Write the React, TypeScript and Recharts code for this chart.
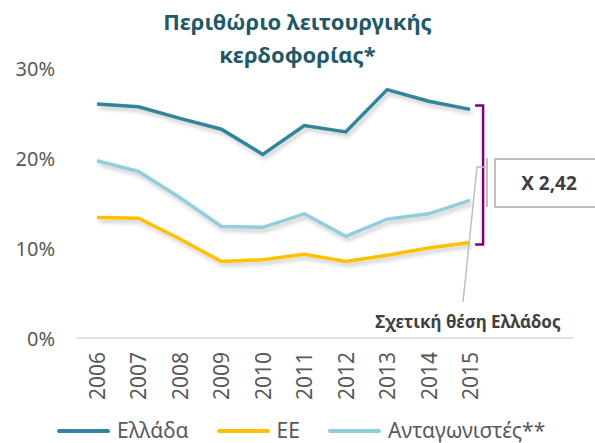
import { LineChart, Line, XAxis, YAxis, ReferenceLine } from 'recharts';

const years = ['2006', '2007', '2008', '2009', '2010', '2011', '2012', '2013', '2014', '2015'];
// two empty slots after 2015 keep the axis running on to the right, like the original
const padSlots = [' ', '  '];

const greece = [26.0, 25.7, 24.4, 23.2, 20.4, 23.6, 22.9, 27.6, 26.3, 25.4];
const eu = [13.4, 13.3, 11.0, 8.5, 8.7, 9.3, 8.5, 9.2, 10.0, 10.6];
const rivals = [19.7, 18.5, 15.6, 12.4, 12.3, 13.8, 11.3, 13.2, 13.8, 15.3];

const yTicks = [0, 10, 20, 30];
const ratioLabel = 'X 2,42';

const series = [
  { key: 'greece', name: 'Ελλάδα', color: '#31849B' },
  { key: 'eu', name: 'ΕΕ', color: '#FFC000' },
  { key: 'rivals', name: 'Ανταγωνιστές**', color: '#92CDDC' },
];

const data = [
  ...years.map((year, i) => ({ year, greece: greece[i], eu: eu[i], rivals: rivals[i] })),
  ...padSlots.map((year) => ({ year })),
];

const FONT = '"Noto Sans", sans-serif';
const TEXT = '#595959';

function YTick({ x, y, payload }: any) {
  return (
    <text x={x} y={y} textAnchor="end" dominantBaseline="central" fill={TEXT} fontSize={20} fontFamily={FONT}>
      {`${payload.value}%`}
    </text>
  );
}

function XTick({ x, y, payload }: any) {
  if (!payload.value.trim()) return null;
  return (
    <text
      x={x}
      y={y}
      transform={`rotate(-90, ${x}, ${y})`}
      textAnchor="end"
      dominantBaseline="central"
      fill={TEXT}
      fontSize={21}
      fontFamily={FONT}
    >
      {payload.value}
    </text>
  );
}

// purple bracket to the right of the 2015 points
function Bracket({ x1, y1, y2 }: any) {
  const x = x1 + 13;
  const top = y1 - 4;
  const bottom = y2 + 2;
  return (
    <path
      d={`M${x - 8},${top} H${x} V${bottom} H${x - 8}`}
      fill="none"
      stroke="#7F007F"
      strokeWidth={2.5}
    />
  );
}

export default function App() {
  return (
    <div style={{ position: 'absolute', left: 0, top: 0, width: 595, height: 443, background: '#fff', fontFamily: FONT }}>
      <div
        style={{
          position: 'absolute',
          top: 5,
          left: 0,
          width: 595,
          textAlign: 'center',
          fontSize: 22,
          lineHeight: '33px',
          fontWeight: 700,
          color: '#215968',
        }}
      >
        Περιθώριο λειτουργικής
        <br />
        κερδοφορίας*
      </div>

      <LineChart width={595} height={443} data={data} margin={{ top: 68, right: 21, bottom: 25, left: 0 }}>
        <defs>
          <filter id="lineShadow" x="-10%" y="-10%" width="130%" height="140%">
            <feDropShadow dx="2" dy="3" stdDeviation="2" floodColor="#000" floodOpacity="0.22" />
          </filter>
        </defs>
        <XAxis
          dataKey="year"
          axisLine={{ stroke: '#D9D9D9', strokeWidth: 1.5 }}
          tickLine={false}
          tickSize={0}
          tickMargin={14}
          height={80}
          interval={0}
          padding={{ left: 21, right: 21 }}
          tick={<XTick />}
        />
        <YAxis
          domain={[0, 30]}
          ticks={yTicks}
          width={76}
          axisLine={false}
          tickLine={false}
          tickSize={0}
          tickMargin={21}
          tick={<YTick />}
        />
        {series.map((s) => (
          <Line
            key={s.key}
            dataKey={s.key}
            name={s.name}
            stroke={s.color}
            strokeWidth={3.5}
            dot={false}
            activeDot={false}
            type="linear"
            filter="url(#lineShadow)"
            isAnimationActive={false}
          />
        ))}
        <ReferenceLine
          segment={[
            { x: '2015', y: greece[greece.length - 1] },
            { x: '2015', y: eu[eu.length - 1] },
          ]}
          shape={<Bracket />}
        />
      </LineChart>

      <svg width={595} height={443} style={{ position: 'absolute', left: 0, top: 0, pointerEvents: 'none' }}>
        <line x1={487} y1={158} x2={487} y2={207} stroke="#BFBFBF" strokeWidth={2} />
        <polyline points="463,302 477,167 486,167" fill="none" stroke="#BFBFBF" strokeWidth={1.5} />
        <rect x={495} y={159} width={110} height={48} fill="#fff" stroke="#BFBFBF" strokeWidth={2} />
        <text x={549} y={190} textAnchor="middle" fontSize={19} fontWeight={700} fill="#404040" fontFamily={FONT}>
          {ratioLabel}
        </text>
        <text x={468} y={328} textAnchor="middle" fontSize={17} fontWeight={700} fill="#404040" fontFamily={FONT}>
          Σχετική θέση Ελλάδος
        </text>
      </svg>

      <div style={{ position: 'absolute', left: 57, top: 420, display: 'flex', alignItems: 'center', lineHeight: '20px' }}>
        {series.map((s) => (
          <div key={s.key} style={{ display: 'flex', alignItems: 'center', marginRight: 28 }}>
            <span style={{ display: 'inline-block', width: 53, height: 4, borderRadius: 2, background: s.color, marginRight: 7, marginTop: 2 }} />
            <span style={{ fontSize: 21, color: TEXT }}>{s.name}</span>
          </div>
        ))}
      </div>
    </div>
  );
}
